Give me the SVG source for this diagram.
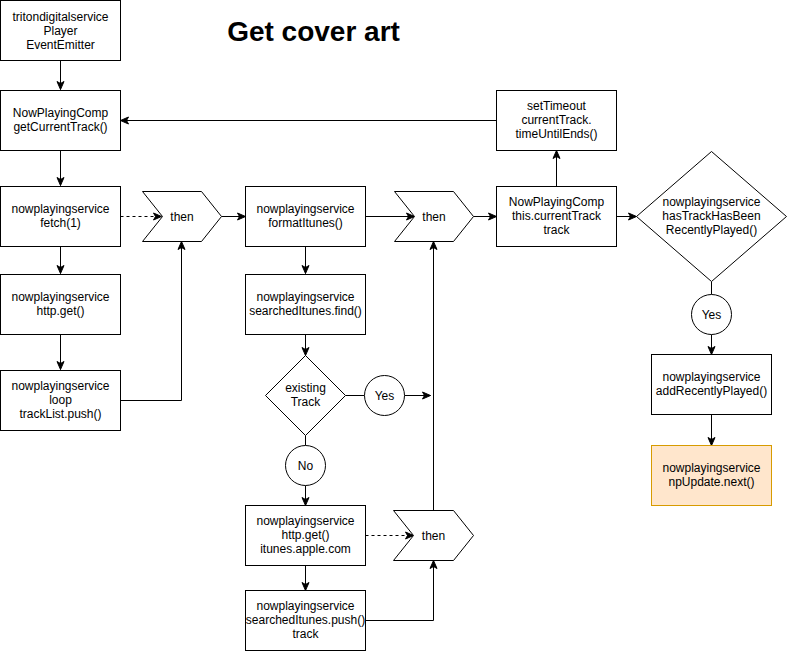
<svg xmlns="http://www.w3.org/2000/svg" width="787" height="651" viewBox="0 0 787 651">
<style>
.n{fill:#fff;stroke:#000;stroke-width:1}
.o{fill:#ffe6cc;stroke:#d79b00;stroke-width:1}
.t{font-family:"Liberation Sans",Arial,sans-serif;font-size:12px;fill:#000;text-anchor:middle}
.c{fill:none;stroke:#000;stroke-width:1}
.a{marker-end:url(#ah)}
.d{stroke-dasharray:3 3}
</style>
<defs>
<marker id="ah" markerWidth="10" markerHeight="10" refX="9" refY="5" orient="auto" markerUnits="userSpaceOnUse">
<path d="M1,1.5 L9,5 L1,8.5 L3,5 Z" fill="#000" stroke="#000" stroke-width="1"/>
</marker>
</defs>
<rect width="787" height="651" fill="#fff"/>
<text x="313.5" y="41" font-family="'Liberation Sans',Arial,sans-serif" font-size="28" font-weight="bold" text-anchor="middle">Get cover art</text>

<g id="connectors">
<path class="c a" d="M60.5,60.5 V89.5"/>
<path class="c a" d="M60.5,150.5 V185.5"/>
<path class="c a" d="M60.5,246.5 V273.5"/>
<path class="c a" d="M60.5,334.5 V369.5"/>
<path class="c a d" d="M120.5,216.5 H161.5"/>
<path class="c a" d="M120.5,400.5 H181.5 V241.5"/>
<path class="c a" d="M221.5,216.5 H245.5"/>
<path class="c a" d="M305.5,246.5 V273.5"/>
<path class="c a" d="M305.5,334.5 V355.5"/>
<path class="c" d="M345.5,395.5 H364.5"/>
<path class="c a" d="M404.5,395.5 H430.5"/>
<path class="c" d="M305.5,435.5 V445.5"/>
<path class="c a" d="M305.5,485.5 V505.5"/>
<path class="c a" d="M305.5,565.5 V590.5"/>
<path class="c a d" d="M365.5,535.5 H413.5"/>
<path class="c a" d="M365.5,620.5 H433.5 V560.5"/>
<path class="c a" d="M433.5,510.5 V241.5"/>
<path class="c a" d="M365.5,216.5 H414.5"/>
<path class="c a" d="M473.5,216.5 H496.5"/>
<path class="c a" d="M556.5,186.5 V150.5"/>
<path class="c a" d="M496.5,120.5 H120.5"/>
<path class="c a" d="M616.5,216.5 H636.5"/>
<path class="c" d="M711.5,281.5 V294.5"/>
<path class="c a" d="M711.5,334.5 V354.5"/>
<path class="c a" d="M711.5,414.5 V445.5"/>
</g>

<g id="triton">
<rect class="n" x="0.5" y="0.5" width="120" height="60"/>
<text class="t" x="60.5" y="21">tritondigitalservice</text>
<text class="t" x="60.5" y="35">Player</text>
<text class="t" x="60.5" y="49">EventEmitter</text>
</g>
<g id="getCurrentTrack">
<rect class="n" x="0.5" y="90.5" width="120" height="60"/>
<text class="t" x="60.5" y="117">NowPlayingComp</text>
<text class="t" x="60.5" y="131">getCurrentTrack()</text>
</g>
<g id="fetch">
<rect class="n" x="0.5" y="186.5" width="120" height="60"/>
<text class="t" x="60.5" y="213">nowplayingservice</text>
<text class="t" x="60.5" y="227">fetch(1)</text>
</g>
<g id="httpget1">
<rect class="n" x="0.5" y="274.5" width="120" height="60"/>
<text class="t" x="60.5" y="301">nowplayingservice</text>
<text class="t" x="60.5" y="315">http.get()</text>
</g>
<g id="loop">
<rect class="n" x="0.5" y="370.5" width="120" height="60"/>
<text class="t" x="60.5" y="390">nowplayingservice</text>
<text class="t" x="60.5" y="404">loop</text>
<text class="t" x="60.5" y="418">trackList.push()</text>
</g>
<g id="then1">
<path class="n" d="M142.5,191.5 H201.5 L221.5,216.5 L201.5,241.5 H142.5 L162.5,216.5 Z"/>
<text class="t" x="182" y="221">then</text>
</g>
<g id="formatItunes">
<rect class="n" x="245.5" y="186.5" width="120" height="60"/>
<text class="t" x="305.5" y="213">nowplayingservice</text>
<text class="t" x="305.5" y="227">formatItunes()</text>
</g>
<g id="find">
<rect class="n" x="245.5" y="274.5" width="120" height="60"/>
<text class="t" x="305.5" y="301">nowplayingservice</text>
<text class="t" x="305.5" y="315">searchedItunes.find()</text>
</g>
<g id="existingTrack">
<path class="n" d="M305.5,355.5 L345.5,395.5 L305.5,435.5 L265.5,395.5 Z"/>
<text class="t" x="305.5" y="392">existing</text>
<text class="t" x="305.5" y="406">Track</text>
</g>
<g id="yes1">
<circle class="n" cx="384.5" cy="395.5" r="20"/>
<text class="t" x="384.5" y="400">Yes</text>
</g>
<g id="no">
<circle class="n" cx="305.5" cy="465.5" r="20"/>
<text class="t" x="305.5" y="470">No</text>
</g>
<g id="httpgetItunes">
<rect class="n" x="245.5" y="505.5" width="120" height="60"/>
<text class="t" x="305.5" y="525">nowplayingservice</text>
<text class="t" x="305.5" y="539">http.get()</text>
<text class="t" x="305.5" y="553">itunes.apple.com</text>
</g>
<g id="push">
<rect class="n" x="245.5" y="590.5" width="120" height="60"/>
<text class="t" x="305.5" y="610">nowplayingservice</text>
<text class="t" x="305.5" y="624">searchedItunes.push()</text>
<text class="t" x="305.5" y="638">track</text>
</g>
<g id="then2">
<path class="n" d="M394.5,191.5 H453.5 L473.5,216.5 L453.5,241.5 H394.5 L414.5,216.5 Z"/>
<text class="t" x="434" y="221">then</text>
</g>
<g id="then3">
<path class="n" d="M393.5,510.5 H453.5 L473.5,535.5 L453.5,560.5 H393.5 L413.5,535.5 Z"/>
<text class="t" x="433.5" y="540">then</text>
</g>
<g id="currentTrack">
<rect class="n" x="496.5" y="186.5" width="120" height="60"/>
<text class="t" x="556.5" y="206">NowPlayingComp</text>
<text class="t" x="556.5" y="220">this.currentTrack</text>
<text class="t" x="556.5" y="234">track</text>
</g>
<g id="setTimeout">
<rect class="n" x="496.5" y="90.5" width="120" height="60"/>
<text class="t" x="556.5" y="110">setTimeout</text>
<text class="t" x="556.5" y="124">currentTrack.</text>
<text class="t" x="556.5" y="138">timeUntilEnds()</text>
</g>
<g id="hasTrack">
<path class="n" d="M711.5,151.5 L786.5,216.5 L711.5,281.5 L636.5,216.5 Z"/>
<text class="t" x="711.5" y="206">nowplayingservice</text>
<text class="t" x="711.5" y="220">hasTrackHasBeen</text>
<text class="t" x="711.5" y="234">RecentlyPlayed()</text>
</g>
<g id="yes2">
<circle class="n" cx="711.5" cy="314.5" r="20"/>
<text class="t" x="711.5" y="319">Yes</text>
</g>
<g id="addRecentlyPlayed">
<rect class="n" x="651.5" y="354.5" width="120" height="60"/>
<text class="t" x="711.5" y="381">nowplayingservice</text>
<text class="t" x="711.5" y="395">addRecentlyPlayed()</text>
</g>
<g id="npUpdate">
<rect class="o" x="651.5" y="445.5" width="120" height="60"/>
<text class="t" x="711.5" y="472">nowplayingservice</text>
<text class="t" x="711.5" y="486">npUpdate.next()</text>
</g>
</svg>
